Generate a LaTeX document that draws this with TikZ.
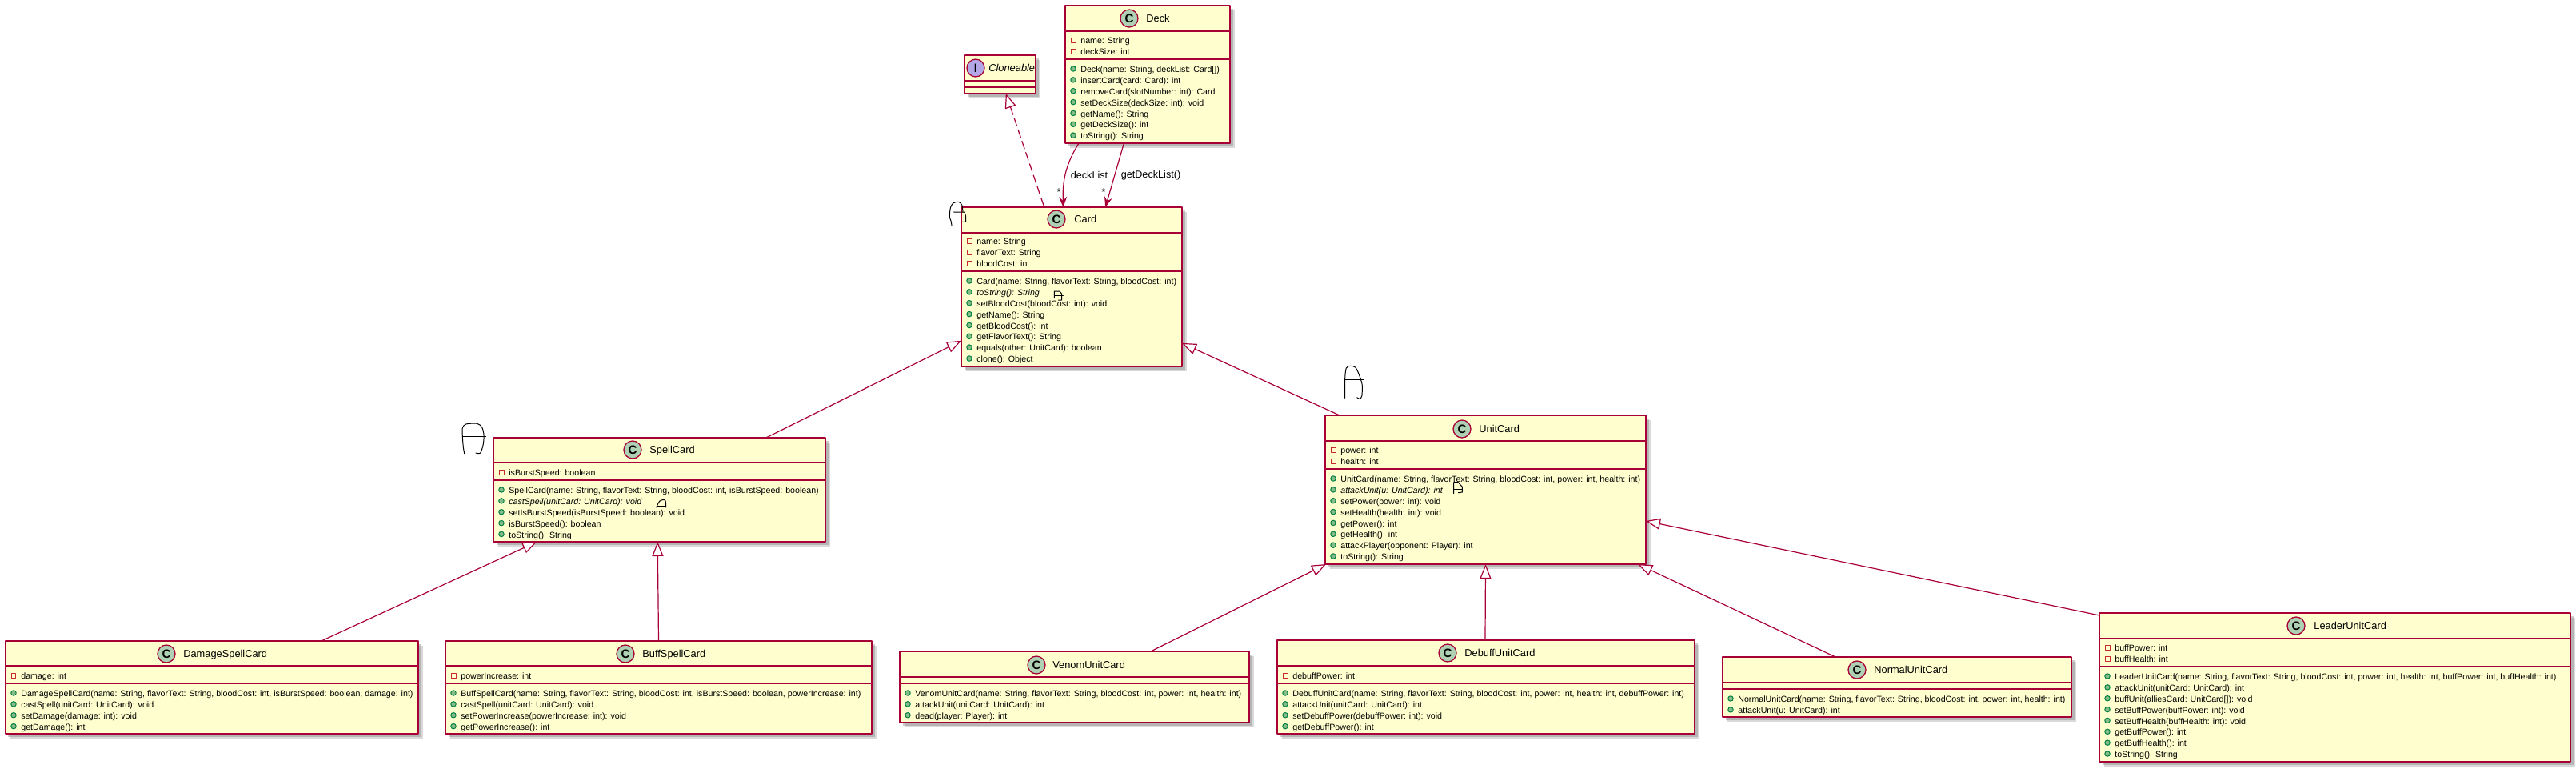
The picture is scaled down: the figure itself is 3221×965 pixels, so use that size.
\documentclass[tikz,border=0pt]{standalone}
\usepackage{fontspec}
\setmainfont{Liberation Sans}
\usepackage{pgf,tikz}
\usetikzlibrary{arrows.meta,shadows}
\definecolor{umlline}{HTML}{A80036}
\definecolor{umlfill}{HTML}{FEFECE}
\definecolor{classicon}{HTML}{ADD1B2}
\definecolor{ifaceicon}{HTML}{B4A7E5}
\definecolor{privred}{HTML}{C82930}
\definecolor{pubdraw}{HTML}{038048}
\definecolor{pubfill}{HTML}{84BE84}
\tikzset{
	classnode/.style={draw=umlline,fill=umlfill,line width=0.03cm,inner sep=0pt,outer sep=0pt,anchor=north west,
		drop shadow={shadow xshift=0.11cm,shadow yshift=-0.11cm,fill=black!50,opacity=.3},
		drop shadow={shadow xshift=0.07cm,shadow yshift=-0.07cm,fill=black!50,opacity=.4}},
	classsep/.style={draw=umlline,line width=0.026cm},
	iconnode/.style={circle,draw=umlline,line width=0.026cm,minimum size=0.44cm,inner sep=0pt,
		font=\fontsize{8.6}{9}\selectfont\bfseries},
	titlenode/.style={anchor=mid west,inner sep=0pt,font=\fontsize{7.3}{8}\selectfont},
	rownode/.style={anchor=mid west,inner sep=0pt,font=\fontsize{6.06}{7}\selectfont},
	privmark/.style={rectangle,draw=privred,line width=0.02cm,minimum size=0.12cm,inner sep=0pt},
	pubmark/.style={circle,draw=pubdraw,fill=pubfill,line width=0.02cm,minimum size=0.13cm,inner sep=0pt},
	edgelabel/.style={inner sep=0pt,font=\fontsize{7.2}{8}\selectfont},
	extendsline/.style={draw=umlline,line width=0.024cm,{Triangle[open,fill=white,length=0.36cm,width=0.28cm]}-},
	hasline/.style={draw=umlline,line width=0.024cm,-{Stealth[length=0.26cm,width=0.2cm,inset=0.1cm]}},
	scribble/.style={draw=black,line width=0.02cm}
}
% name, left, top, right, bottom
\newcommand{\classbox}[5]{
	\node[classnode,minimum width=(#4-#2)*0.02cm,minimum height=(#5-#3)*0.02cm] (#1) at (#2,#3) {};
}
% name, left, first row, rows
\newcommand{\attrrows}[4]{
	\foreach \txt [count=\i] in {#4}{
		\node[privmark] (#1-amark\i) at (#2+10,{#3+(\i-1)*14}) {};
		\node[rownode] (#1-a\i) at (#2+19,{#3+(\i-1)*14}) {\txt};
	}
}
\newcommand{\methrows}[4]{
	\foreach \txt [count=\i] in {#4}{
		\node[pubmark] (#1-mmark\i) at (#2+10,{#3+(\i-1)*13.86}) {};
		\node[rownode] (#1-m\i) at (#2+19,{#3+(\i-1)*13.86}) {\txt};
	}
}
\begin{document}
\begin{tikzpicture}[line cap=round,line join=round,x=0.02cm,y=-0.02cm]
	\useasboundingbox (0,0) rectangle (3221,965);
	\classbox{deck}{1332}{7}{1538}{179}
	\classbox{cloneable}{1206}{69}{1295}{117}
	\classbox{card}{1202}{259}{1478}{458}
	\classbox{spell}{617}{547}{1032}{677}
	\classbox{unit}{1657}{519}{2058}{705}
	\classbox{damage}{7}{801}{523}{917}
	\classbox{buff}{557}{801}{1090}{917}
	\classbox{venom}{1125}{814}{1562}{903}
	\classbox{debuff}{1597}{800}{2119}{917}
	\classbox{normal}{2154}{821}{2590}{896}
	\classbox{leader}{2625}{766}{3214}{952}

	\foreach \nm/\ya/\yb in {deck/39/74,cloneable/101/109,card/291/339,spell/578/600,unit/551/586,
		damage/832/854,buff/832/854,venom/846/854,debuff/832/854,normal/853/861,leader/798/833}{
		\draw[classsep] (\nm.west |- 0,\ya) -- (\nm.east |- 0,\ya);
		\draw[classsep] (\nm.west |- 0,\yb) -- (\nm.east |- 0,\yb);
	}

	\node[iconnode,fill=classicon] (deck-icon) at (1412,23) {C};
	\node[titlenode] (deck-title) at (1433,23) {Deck};
	\node[iconnode,fill=ifaceicon] (cloneable-icon) at (1220,85) {I};
	\node[titlenode] (cloneable-title) at (1236,85) {\itshape Cloneable};
	\node[iconnode,fill=classicon] (card-icon) at (1321,274) {C};
	\node[titlenode] (card-title) at (1343,274) {Card};
	\node[iconnode,fill=classicon] (spell-icon) at (791,562) {C};
	\node[titlenode] (spell-title) at (812,562) {SpellCard};
	\node[iconnode,fill=classicon] (unit-icon) at (1828,536) {C};
	\node[titlenode] (unit-title) at (1849,536) {UnitCard};
	\node[iconnode,fill=classicon] (damage-icon) at (208,817) {C};
	\node[titlenode] (damage-title) at (229,817) {DamageSpellCard};
	\node[iconnode,fill=classicon] (buff-icon) at (782,817) {C};
	\node[titlenode] (buff-title) at (803,817) {BuffSpellCard};
	\node[iconnode,fill=classicon] (venom-icon) at (1296,831) {C};
	\node[titlenode] (venom-title) at (1316,831) {VenomUnitCard};
	\node[iconnode,fill=classicon] (debuff-icon) at (1810,816) {C};
	\node[titlenode] (debuff-title) at (1831,816) {DebuffUnitCard};
	\node[iconnode,fill=classicon] (normal-icon) at (2322,837) {C};
	\node[titlenode] (normal-title) at (2343,837) {NormalUnitCard};
	\node[iconnode,fill=classicon] (leader-icon) at (2871,782) {C};
	\node[titlenode] (leader-title) at (2893,782) {LeaderUnitCard};

	\attrrows{deck}{1332}{50}{{name: String},{deckSize: int}}
	\methrows{deck}{1332}{86}{{Deck(name: String, deckList: Card[])},{insertCard(card: Card): int},
		{removeCard(slotNumber: int): Card},{setDeckSize(deckSize: int): void},{getName(): String},
		{getDeckSize(): int},{toString(): String}}
	\attrrows{card}{1202}{301}{{name: String},{flavorText: String},{bloodCost: int}}
	\methrows{card}{1202}{351}{{Card(name: String, flavorText: String, bloodCost: int)},{\textit{toString(): String}},
		{setBloodCost(bloodCost: int): void},{getName(): String},{getBloodCost(): int},
		{getFlavorText(): String},{equals(other: UnitCard): boolean},{clone(): Object}}
	\attrrows{spell}{617}{590}{{isBurstSpeed: boolean}}
	\methrows{spell}{617}{612}{{SpellCard(name: String, flavorText: String, bloodCost: int, isBurstSpeed: boolean)},
		{\textit{castSpell(unitCard: UnitCard): void}},{setIsBurstSpeed(isBurstSpeed: boolean): void},
		{isBurstSpeed(): boolean},{toString(): String}}
	\attrrows{unit}{1657}{562}{{power: int},{health: int}}
	\methrows{unit}{1657}{598}{{UnitCard(name: String, flavorText: String, bloodCost: int, power: int, health: int)},
		{\textit{attackUnit(u: UnitCard): int}},{setPower(power: int): void},{setHealth(health: int): void},
		{getPower(): int},{getHealth(): int},{attackPlayer(opponent: Player): int},{toString(): String}}
	\attrrows{damage}{7}{844}{{damage: int}}
	\methrows{damage}{7}{866}{{DamageSpellCard(name: String, flavorText: String, bloodCost: int, isBurstSpeed: boolean, damage: int)},
		{castSpell(unitCard: UnitCard): void},{setDamage(damage: int): void},{getDamage(): int}}
	\attrrows{buff}{557}{844}{{powerIncrease: int}}
	\methrows{buff}{557}{866}{{BuffSpellCard(name: String, flavorText: String, bloodCost: int, isBurstSpeed: boolean, powerIncrease: int)},
		{castSpell(unitCard: UnitCard): void},{setPowerIncrease(powerIncrease: int): void},{getPowerIncrease(): int}}
	\methrows{venom}{1125}{866}{{VenomUnitCard(name: String, flavorText: String, bloodCost: int, power: int, health: int)},
		{attackUnit(unitCard: UnitCard): int},{dead(player: Player): int}}
	\attrrows{debuff}{1597}{844}{{debuffPower: int}}
	\methrows{debuff}{1597}{866}{{DebuffUnitCard(name: String, flavorText: String, bloodCost: int, power: int, health: int, debuffPower: int)},
		{attackUnit(unitCard: UnitCard): int},{setDebuffPower(debuffPower: int): void},{getDebuffPower(): int}}
	\methrows{normal}{2154}{873}{{NormalUnitCard(name: String, flavorText: String, bloodCost: int, power: int, health: int)},
		{attackUnit(u: UnitCard): int}}
	\attrrows{leader}{2625}{809}{{buffPower: int},{buffHealth: int}}
	\methrows{leader}{2625}{845}{{LeaderUnitCard(name: String, flavorText: String, bloodCost: int, power: int, health: int, buffPower: int, buffHealth: int)},
		{attackUnit(unitCard: UnitCard): int},{buffUnit(alliesCard: UnitCard[]): void},{setBuffPower(buffPower: int): void},
		{setBuffHealth(buffHealth: int): void},{getBuffPower(): int},{getBuffHealth(): int},{toString(): String}}

	\draw[extendsline,dash pattern=on 0.2cm off 0.1cm] (cloneable.287.4) -- (card.109.4);
	\draw[hasline] (deck.225.3) to[out=238,in=92] (card.96.9);
	\draw[hasline] (deck.251.4) -- (card.67.6);
	\node[edgelabel] (decklist-label) at (1362,219) {deckList};
	\node[edgelabel] (getdecklist-label) at (1439,219) {getDeckList()};
	\node[edgelabel] (decklist-star) at (1324,240) {*};
	\node[edgelabel] (getdecklist-star) at (1380,240) {*};
	\draw[extendsline] (card.206.07) -- (spell.26.1);
	\draw[extendsline] (card.333.93) -- (unit.153.74);
	\draw[extendsline] (spell.203.5) -- (damage.23.7);
	\draw[extendsline] (spell.268.7) -- (buff.90);
	\draw[extendsline] (unit.205.55) -- (venom.25.45);
	\draw[extendsline] (unit.270) -- (debuff.91);
	\draw[extendsline] (unit.334.45) -- (normal.154.3);
	\draw[extendsline] (unit.349.54) -- (leader.163.2);

	\draw[scribble] plot[smooth] coordinates {(1190,281.7) (1189,276) (1187.3,271.7) (1188.3,260) (1191.7,254) (1198.3,252.3) (1202.7,256) (1204,265)};
	\draw[scribble] (1192.7,265) -- (1206,265) -- (1207.7,270.7) -- (1207.7,277.3) -- (1201.7,277.3);
	\draw[scribble] (1318.3,372.7) -- (1318.3,364) -- (1325,364) -- (1327.7,367.3) -- (1327.7,375) -- (1323.3,375);
	\draw[scribble] (1319.3,369) -- (1329.3,369);
	\draw[scribble] plot[smooth] coordinates {(580.7,566.7) (579.3,558.3) (578.3,545) (578.3,535) (582.7,530) (596.7,529.3) (602.7,534) (605,543.3) (604.3,555) (600.7,566) (595,566)};
	\draw[scribble] (578.3,545) -- (607.7,545);
	\draw[scribble] plot[smooth] coordinates {(820.7,634) (825,626) (831.7,625) (832.7,634)};
	\draw[scribble] (821.7,632.7) -- (832.7,632.7);
	\draw[scribble] plot[smooth] coordinates {(1681.7,497.3) (1681.7,473.3) (1683.3,460) (1688.3,457.3) (1695,459.3) (1700,470) (1703.3,481.7) (1702.7,495) (1700,498.3) (1696.7,496.7)};
	\draw[scribble] (1681.7,474) -- (1705,474);
	\draw[scribble] (1817.7,616.7) -- (1817.7,602.7) -- (1823.3,602.7) -- (1828.3,608.3) -- (1828.3,615) -- (1823.3,615.7);
	\draw[scribble] (1818.3,611.7) -- (1828.3,611.7);
\end{tikzpicture}
\end{document}
